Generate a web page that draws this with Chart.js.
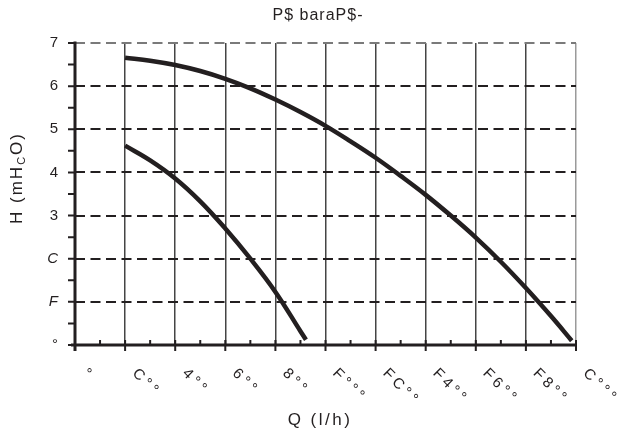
<!DOCTYPE html>
<html>
<head>
<meta charset="utf-8">
<script src="https://cdn.jsdelivr.net/npm/chart.js@4.4.1/dist/chart.umd.min.js"></script>
<style>
  html, body { margin: 0; padding: 0; background: #ffffff; }
  #wrap { width: 620px; height: 442px; }
</style>
</head>
<body>
<div id="wrap"><canvas id="pumpChart" width="620" height="442"></canvas></div>
<script>
// Texts
const chartTitle = 'P$ baraP$-';
const xAxisTitle = 'Q (l/h)';
const yAxisTitleParts = ['H (mH', 'C', 'O)'];

// Axis ticks
const flowTicks = [0, 200, 400, 600, 800, 1000, 1200, 1400, 1600, 1800, 2000];
const flowTickLabels = ['°', 'C°°', '4°°', '6°°', '8°°', 'F°°°', 'FC°°', 'F4°°', 'F6°°', 'F8°°', 'C°°°'];
const headTicks = [0, 1, 2, 3, 4, 5, 6, 7];
const headTickLabels = ['°', 'F', 'C', '3', '4', '5', '6', '7'];

// Upper pump curve (flow l/h, head mH2O)
const upperFlow = [200, 300, 400, 500, 600, 700, 800, 900, 1000, 1100, 1200, 1300, 1400, 1500, 1600, 1700, 1800, 1900, 1983];
const upperHead = [6.66, 6.59, 6.49, 6.35, 6.17, 5.95, 5.69, 5.40, 5.08, 4.72, 4.34, 3.92, 3.48, 3.00, 2.49, 1.93, 1.32, 0.67, 0.10];

// Lower pump curve
const lowerFlow = [200, 300, 400, 500, 600, 700, 800, 900, 922];
const lowerHead = [4.62, 4.28, 3.86, 3.33, 2.70, 2.00, 1.23, 0.32, 0.12];

const INK = '#231f20';
const FONT = '"Liberation Sans", Arial, sans-serif';

const toPoints = (xs, ys) => xs.map((x, i) => ({ x: x, y: ys[i] }));

const decorations = {
  id: 'decorations',
  afterDatasetsDraw(chart) {
    const ctx = chart.ctx;
    const xs = chart.scales.x;
    const ys = chart.scales.y;
    const x0 = xs.getPixelForValue(0);
    const y0 = ys.getPixelForValue(0);

    ctx.save();
    ctx.strokeStyle = INK;
    ctx.fillStyle = INK;
    ctx.lineCap = 'butt';

    // axis lines
    ctx.lineWidth = 3;
    ctx.beginPath();
    ctx.moveTo(x0, ys.getPixelForValue(7) - 1.5);
    ctx.lineTo(x0, y0 + 6);
    ctx.moveTo(x0 - 4, y0);
    ctx.lineTo(xs.getPixelForValue(2000) + 1, y0);
    ctx.stroke();

    // y ticks (major + half steps), outside
    ctx.lineWidth = 2;
    ctx.beginPath();
    for (let v = 0; v <= 7; v += 0.5) {
      const py = ys.getPixelForValue(v);
      ctx.moveTo(x0 - 7, py);
      ctx.lineTo(x0, py);
    }
    // x ticks: major across the axis, minor inside
    for (let v = 0; v <= 2000; v += 100) {
      const px = xs.getPixelForValue(v);
      const major = v % 200 === 0;
      ctx.moveTo(px, y0 - 5);
      ctx.lineTo(px, major ? y0 + 6 : y0);
    }
    ctx.stroke();

    // y tick labels
    ctx.textAlign = 'right';
    ctx.textBaseline = 'middle';
    headTicks.forEach((v, i) => {
      const lab = headTickLabels[i];
      const italic = (lab === 'C' || lab === 'F');
      ctx.font = (italic ? 'italic ' : '') + '15px ' + FONT;
      ctx.fillText(lab, 58, ys.getPixelForValue(v));
    });

    // x tick labels, slanted downwards
    ctx.font = '15px ' + FONT;
    ctx.textAlign = 'left';
    ctx.textBaseline = 'middle';
    flowTicks.forEach((v, i) => {
      const px = xs.getPixelForValue(v);
      ctx.save();
      ctx.translate(px + 9.5, 371);
      ctx.rotate(Math.PI / 4);
      ctx.letterSpacing = '3.5px';
      ctx.fillText(flowTickLabels[i], 0, 0);
      ctx.restore();
    });

    // chart title
    ctx.save();
    ctx.font = '16px ' + FONT;
    ctx.textAlign = 'center';
    ctx.textBaseline = 'middle';
    ctx.letterSpacing = '1px';
    ctx.fillText(chartTitle, 318, 16);
    ctx.restore();

    // x axis title
    ctx.save();
    ctx.font = '17px ' + FONT;
    ctx.textAlign = 'center';
    ctx.textBaseline = 'middle';
    ctx.letterSpacing = '2.5px';
    ctx.fillText(xAxisTitle, 320, 420);
    ctx.restore();

    // y axis title with subscript
    ctx.save();
    ctx.translate(17, 178);
    ctx.rotate(-Math.PI / 2);
    ctx.textAlign = 'left';
    ctx.textBaseline = 'middle';
    ctx.letterSpacing = '2px';
    const fonts = ['17px ' + FONT, '11px ' + FONT, '17px ' + FONT];
    const widths = yAxisTitleParts.map((t, i) => { ctx.font = fonts[i]; return ctx.measureText(t).width; });
    let cx = -widths.reduce((a, b) => a + b, 0) / 2;
    yAxisTitleParts.forEach((t, i) => {
      ctx.font = fonts[i];
      ctx.fillText(t, cx, i === 1 ? 5 : 0);
      cx += widths[i];
    });
    ctx.restore();

    ctx.restore();
  }
};

const curveStyle = {
  borderColor: INK,
  borderWidth: 4.5,
  pointRadius: 0,
  tension: 0.4,
  borderCapStyle: 'butt',
  fill: false
};

new Chart(document.getElementById('pumpChart'), {
  type: 'line',
  data: {
    datasets: [
      Object.assign({ data: toPoints(upperFlow, upperHead) }, curveStyle),
      Object.assign({ data: toPoints(lowerFlow, lowerHead) }, curveStyle)
    ]
  },
  options: {
    responsive: false,
    animation: false,
    devicePixelRatio: 1,
    layout: { autoPadding: false, padding: { left: 75, right: 44, top: 43, bottom: 97 } },
    plugins: { legend: { display: false }, title: { display: false }, tooltip: { enabled: false } },
    scales: {
      x: {
        type: 'linear',
        min: 0,
        max: 2000,
        ticks: { display: false, stepSize: 200 },
        border: { display: false },
        grid: {
          drawTicks: false,
          lineWidth: 1.5,
          color: (c) => c.tick && c.tick.value === 0 ? 'rgba(0,0,0,0)' : (c.tick && c.tick.value === 2000 ? '#9a9a9a' : '#444444')
        }
      },
      y: {
        type: 'linear',
        min: 0,
        max: 7,
        ticks: { display: false, stepSize: 1 },
        border: { display: false, dash: [10, 5.5] },
        grid: {
          drawTicks: false,
          lineWidth: 2,
          color: (c) => c.tick && c.tick.value === 0 ? 'rgba(0,0,0,0)' : (c.tick && c.tick.value === 7 ? '#7a7a7a' : INK)
        }
      }
    }
  },
  plugins: [decorations]
});
</script>
</body>
</html>
